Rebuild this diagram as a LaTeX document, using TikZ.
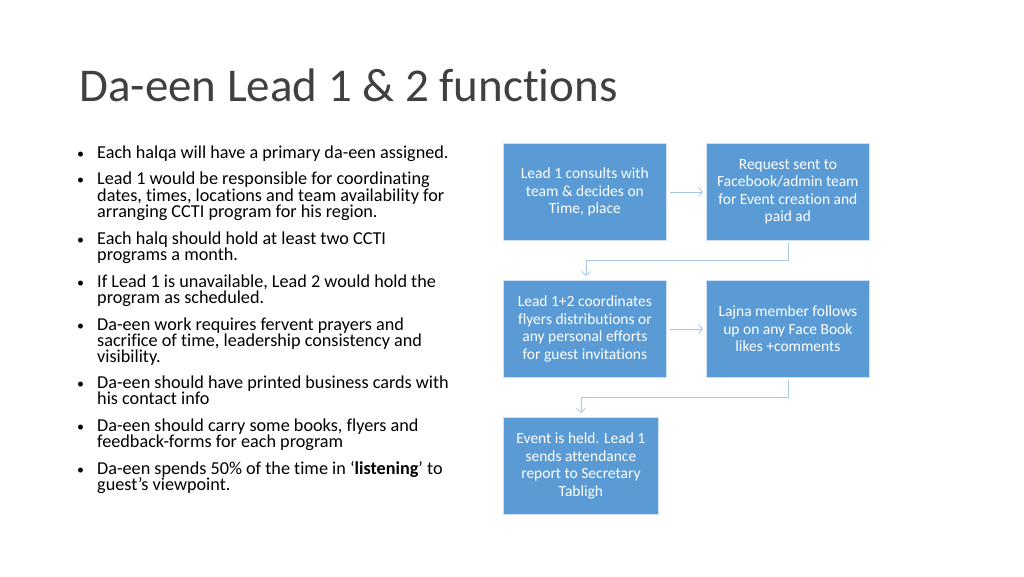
\documentclass[tikz,border=0pt]{standalone}
\usepackage{fontspec}
\setmainfont[Ligatures=NoCommon]{Carlito}
\usetikzlibrary{arrows.meta}
\begin{document}
\begin{tikzpicture}[x=1pt,y=-1pt,
  box/.style={draw=white!70!boxc,fill=boxc,text=white,minimum width=163pt,minimum height=97pt,anchor=north west,align=center,font=\fontsize{15.5}{17.5}\selectfont,inner sep=2pt,line width=0.8pt},
  ln/.style={anchor=base west,font=\fontsize{18.2}{18}\selectfont,inner sep=0pt},
  bul/.style={anchor=base west,font=\fontsize{14}{18}\selectfont,inner sep=0pt},
  con/.style={draw=conc,line width=0.8pt,-{Straight Barb[length=4pt,width=9pt]}}]
\definecolor{boxc}{HTML}{5B9BD5}
\definecolor{conc}{HTML}{A9C4E4}
\useasboundingbox (0,0) rectangle (1024,576);
\fill[white] (0,0) rectangle (1024,576);
\node[anchor=base west,inner sep=0pt,font=\fontsize{47}{50}\selectfont,text=black!75] (title) at (79,101) {Da-een Lead 1 \& 2  functions};
\foreach \y/\t in {158/Each halqa will have a primary da-een assigned.,
  184/Lead 1 would be responsible for coordinating,
  244/Each halq should hold at least two CCTI,
  287/If Lead 1 is unavailable{,} Lead 2 would hold the,
  330/Da-een work  requires fervent prayers and,
  388/Da-een should have printed business cards with,
  431/Da-een should carry some books{,} flyers and,
  474/Da-een spends 50\% of the time in ‘\textbf{listening}’ to}
  {\node[bul] at (77,\y) {•}; \node[ln] at (97,\y) {\t};}
\foreach \y/\t in {201/dates{,} times{,} locations and team availability for,
  217/arranging CCTI program for his region.,
  260/programs a month.,
  303/program as scheduled.,
  346/sacrifice of time{,} leadership consistency and,
  362/visibility.,
  404/his contact info,
  447/feedback-forms for each program,
  490/guest’s viewpoint.}
  {\node[ln] at (97,\y) {\t};}
\node[box] (b1) at (503,143) {Lead 1 consults with\\team \& decides on\\Time, place};
\node[box] (b2) at (706,143) {Request sent to\\Facebook/admin team\\for Event creation and\\paid ad};
\node[box] (b3) at (503,280) {Lead 1+2 coordinates\\flyers distributions or\\any personal efforts\\for guest invitations};
\node[box] (b4) at (706,280) {Lajna member follows\\up on any Face Book\\likes +comments};
\node[box,minimum width=155pt] (b5) at (503,417) {Event is held. Lead 1\\sends attendance\\report to Secretary\\Tabligh};
\draw[con] ([xshift=3pt]b1.east) -- ([xshift=-3pt]b2.west);
\draw[con] ([xshift=3pt]b3.east) -- ([xshift=-3pt]b4.west);
\draw[con] ([yshift=-2pt]b2.south) -- ++(0,18) -| ([xshift=1pt,yshift=4pt]b3.north);
\draw[con] ([yshift=-2pt]b4.south) -- ++(0,18) -| ([yshift=4pt]b5.north);
\end{tikzpicture}
\end{document}
